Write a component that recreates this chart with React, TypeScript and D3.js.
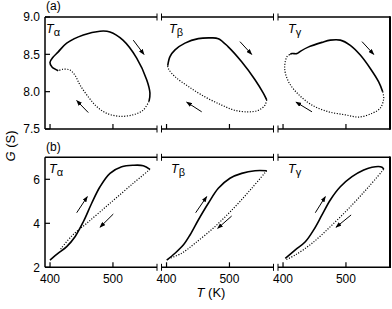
import * as d3 from 'd3';

// temperature break segments (same T range in each of the 3 sub-axes)
const segDomain: [number, number] = [392, 570];
const segRanges: [number, number][] = [[45, 157], [161.5, 273.5], [278, 390]];
const xTicks = [400, 500];
const topTicks = [7.5, 8.0, 8.5, 9.0];
const botTicks = [2, 4, 6];
const greek = ['α', 'β', 'γ'];

// (a) G vs T loops: heating (solid) and cooling (dotted)
const topHeat: [number, number][][] = [
  [[413.1, 8.28], [403.1, 8.33], [399.9, 8.39], [404.7, 8.46], [412.7, 8.53], [426.5, 8.65], [452.9, 8.76], [479.4, 8.81], [495.3, 8.8], [515.9, 8.69], [537.7, 8.45], [553.6, 8.16], [558.8, 7.98], [557.3, 7.87]],
  [[401.9, 8.35], [405.5, 8.47], [413.5, 8.56], [429.3, 8.65], [450.5, 8.71], [469.1, 8.72], [482.3, 8.71], [498.1, 8.6], [519.4, 8.4], [540.6, 8.16], [553.8, 7.98], [559.2, 7.89]],
  [[411.5, 8.5], [414.2, 8.51], [422.2, 8.51], [427.4, 8.54], [440.8, 8.6], [461.9, 8.66], [475.1, 8.69], [491, 8.69], [506.9, 8.62], [522.8, 8.49], [538.7, 8.31], [552, 8.13], [558.4, 8.0]],
];
const topCool: [number, number][][] = [
  [[557.3, 7.87], [547.7, 7.75], [531.8, 7.69], [511.2, 7.67], [490, 7.71], [474.2, 7.8], [460.8, 7.93], [447.6, 8.09], [439.7, 8.22], [431.7, 8.29], [420.6, 8.3], [413.1, 8.28]],
  [[559.2, 7.89], [556.5, 7.82], [545.8, 7.75], [529.9, 7.73], [508.8, 7.75], [487.7, 7.82], [461.1, 7.93], [434.6, 8.07], [413.5, 8.2], [402.8, 8.31], [401.9, 8.35]],
  [[558.4, 8.0], [560, 7.91], [554.6, 7.78], [541.4, 7.71], [520.2, 7.66], [498.9, 7.69], [472.6, 7.73], [446, 7.82], [424.9, 7.96], [409, 8.13], [402.6, 8.31], [406.3, 8.47], [411.5, 8.5]],
];

// (b)
const botHeat: [number, number][][] = [
  [[399.9, 2.33], [413.1, 2.64], [426.5, 2.94], [439.7, 3.39], [452.9, 4.07], [466.2, 4.91], [479.4, 5.66], [495.3, 6.27], [513.9, 6.57], [532.3, 6.64], [548.2, 6.62], [558.8, 6.45]],
  [[400.3, 2.33], [413.5, 2.64], [426.6, 3.01], [437.3, 3.47], [450.5, 4.15], [466.4, 4.91], [482.3, 5.59], [500.8, 6.05], [519.4, 6.27], [540.6, 6.39], [559.2, 6.39]],
  [[403.6, 2.41], [419.5, 2.79], [435.4, 3.16], [448.7, 3.7], [461.9, 4.38], [475.1, 5.06], [491, 5.66], [509.6, 6.12], [528.2, 6.42], [541.4, 6.55], [557.3, 6.55], [560, 6.45]],
];
const botCool: [number, number][][] = [
  [[558.8, 6.45], [532.3, 5.82], [495.3, 4.91], [458.3, 4.0], [434.4, 3.42], [415.8, 2.79]],
  [[559.2, 6.39], [535.3, 5.59], [508.8, 4.75], [477, 3.85], [445.2, 3.09], [424.1, 2.64], [402.3, 2.38]],
  [[560, 6.45], [536.1, 5.66], [509.6, 4.83], [477.8, 3.92], [446, 3.09], [419.5, 2.56], [403.6, 2.33]],
];

// arrows: [T0, G0, T1, G1]
const topArrows: number[][][] = [
  [[532.3, 8.69, 549.3, 8.5], [460.8, 7.72, 442.4, 7.88]],
  [[516.7, 8.67, 535.3, 8.5], [455.9, 7.73, 432, 7.86]],
  [[525.5, 8.67, 544.1, 8.5], [446, 7.73, 420.6, 7.86]],
];
const botArrows: number[][][] = [
  [[442.4, 4.48, 459.2, 5.21], [500.5, 4.42, 479.4, 3.82]],
  [[446.3, 4.48, 463.8, 5.21], [503.5, 4.33, 481.3, 3.77]],
  [[451.3, 4.48, 467.2, 5.21], [508.2, 4.38, 484.2, 3.82]],
];

const FONT = '"Liberation Sans", Arial, Helvetica, sans-serif';

const xScales = segRanges.map((r) => d3.scaleLinear().domain(segDomain).range(r));
const yTop = d3.scaleLinear().domain([7.5, 9.0]).range([129, 17]);
const yBot = d3.scaleLinear().domain([2, 7]).range([267.3, 157.3]);

function Panel({ y, ticks, fmt, heat, cool, arrows, labelX, labelY }: any) {
  const [y1, y0] = y.range();
  const brk = 3.5;
  return (
    <g>
      {/* frame */}
      <line x1={45} x2={45} y1={y0} y2={y1} stroke="#000" strokeWidth={1.5} />
      <line x1={390} x2={390} y1={y0 - 0.75} y2={y1 + 0.75} stroke="#000" strokeWidth={2} />
      {segRanges.map((r, i) => (
        <g key={i}>
          {[y0, y1].map((yy) => (
            <g key={yy}>
              <line x1={r[0]} x2={r[1]} y1={yy} y2={yy} stroke="#000" strokeWidth={1.5} />
              {i > 0 && <line x1={r[0]} x2={r[0]} y1={yy - brk} y2={yy + brk} stroke="#000" strokeWidth={1} />}
              {i < 2 && <line x1={r[1]} x2={r[1]} y1={yy - brk} y2={yy + brk} stroke="#000" strokeWidth={1} />}
            </g>
          ))}
          {xTicks.map((t) => (
            <line key={t} x1={xScales[i](t)} x2={xScales[i](t)} y1={y1} y2={y1 - 5} stroke="#000" strokeWidth={1.2} />
          ))}
        </g>
      ))}
      {ticks.map((t: number) => (
        <g key={t}>
          <line x1={45} x2={50} y1={y(t)} y2={y(t)} stroke="#000" strokeWidth={1.2} />
          <text x={40} y={y(t)} dy="0.36em" textAnchor="end" fontSize={12} fontFamily={FONT}>{fmt(t)}</text>
        </g>
      ))}
      {/* curves */}
      {segRanges.map((_, i) => {
        const line = d3.line<[number, number]>()
          .x((d) => xScales[i](d[0]))
          .y((d) => y(d[1]))
          .curve(d3.curveCatmullRom.alpha(0.5));
        return (
          <g key={i}>
            <path d={line(cool[i]) || ''} fill="none" stroke="#000" strokeWidth={1.2} strokeDasharray="1.1,1.6" />
            <path d={line(heat[i]) || ''} fill="none" stroke="#000" strokeWidth={1.6} />
            {arrows[i].map((a: number[], k: number) => (
              <line key={k} x1={xScales[i](a[0])} y1={y(a[1])} x2={xScales[i](a[2])} y2={y(a[3])}
                stroke="#000" strokeWidth={1} markerEnd="url(#ah)" />
            ))}
            <text x={labelX[i]} y={labelY} fontSize={12.5} fontFamily={FONT}>
              <tspan fontStyle="italic">T</tspan>
              <tspan dy={2.5} fontSize={11}>{greek[i]}</tspan>
            </text>
          </g>
        );
      })}
    </g>
  );
}

export default function App() {
  return (
    <svg width={392} height={309} style={{ position: 'absolute', left: 0, top: 0, background: '#fff' }}>
      <defs>
        <marker id="ah" viewBox="0 0 8 6" refX={7} refY={3} markerWidth={6} markerHeight={4.5} orient="auto" markerUnits="userSpaceOnUse">
          <path d="M0,0 L8,3 L0,6 z" fill="#000" />
        </marker>
      </defs>
      <Panel y={yTop} ticks={topTicks} fmt={(t: number) => t.toFixed(1)} heat={topHeat} cool={topCool}
        arrows={topArrows} labelX={[46, 169, 288]} labelY={33} />
      <Panel y={yBot} ticks={botTicks} fmt={(t: number) => String(t)} heat={botHeat} cool={botCool}
        arrows={botArrows} labelX={[49, 171, 288]} labelY={173} />
      {segRanges.map((_, i) =>
        xTicks.map((t) => (
          <text key={`${i}-${t}`} x={xScales[i](t)} y={283} textAnchor="middle" fontSize={12} fontFamily={FONT}>{t}</text>
        ))
      )}
      <text x={46} y={10} fontSize={12} fontFamily={FONT}>(a)</text>
      <text x={46} y={151} fontSize={12} fontFamily={FONT}>(b)</text>
      <text transform="translate(15,146) rotate(-90)" textAnchor="middle" fontSize={13} fontFamily={FONT}>
        <tspan fontStyle="italic">G</tspan> (S)
      </text>
      <text x={211} y={297} textAnchor="middle" fontSize={13} fontFamily={FONT}>
        <tspan fontStyle="italic">T</tspan> (K)
      </text>
    </svg>
  );
}
